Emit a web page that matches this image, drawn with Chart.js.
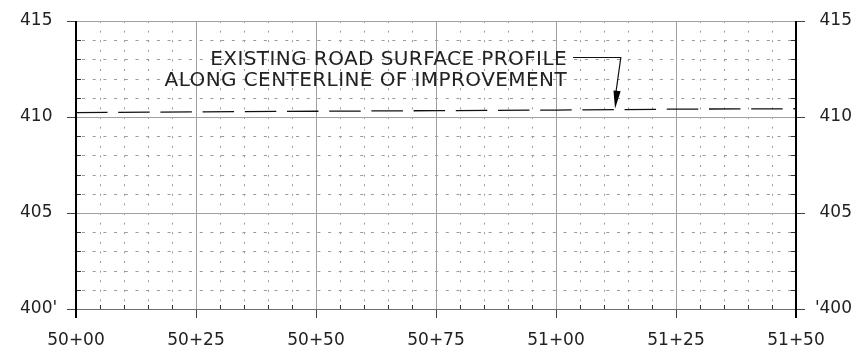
<!DOCTYPE html>
<html>
<head>
<meta charset="utf-8">
<script src="https://cdn.jsdelivr.net/npm/chart.js@4"></script>
<style>
html,body{margin:0;padding:0;background:#fff;}
#wrap{width:859px;height:354px;position:relative;}
</style>
</head>
<body>
<div id="wrap"><canvas id="c"></canvas></div>
<script>
// ---- data ----
const stations = [5000, 5025, 5050, 5075, 5100, 5125, 5150];          // feet (50+00 ... 51+50)
const surfaceElev = [410.23, 410.27, 410.30, 410.33, 410.36, 410.41, 410.43];
const yTicksLeft = {400: "400'"};
const yTicksRight = {400: "'400"};
const annotationLines = ["EXISTING ROAD SURFACE PROFILE", "ALONG CENTERLINE OF IMPROVEMENT"];

// ---- layout constants (not data) ----
const X_MIN = 5000, X_MAX = 5150, Y_MIN = 400, Y_MAX = 415;
const ann = { textX: 5102.3, y1: 412.70, y2: 411.60, cornerX: 5113.5, cornerY: 413.11, tipX: 5112.3, tipY: 410.43 };

function fmtStation(v){
  const s = Math.floor(v/100), r = Math.round(v - s*100);
  return s + '+' + (r < 10 ? '0' + r : r);
}

const FONT = '"DejaVu Sans", sans-serif';

const gridPlugin = {
  id: 'cadGrid',
  beforeDatasetsDraw(chart){
    const {ctx, chartArea:a, scales:{x, y}} = chart;
    const L = a.left, R = a.right, T = a.top, B = a.bottom;
    const px = v => Math.round(x.getPixelForValue(v)) + 0.5;
    const py = v => Math.round(y.getPixelForValue(v)) + 0.5;
    ctx.save();
    ctx.lineWidth = 1;
    // minor horizontal
    ctx.strokeStyle = '#9a9a9a';
    ctx.setLineDash([3, 7.7]);
    for (let v = Y_MIN + 1; v < Y_MAX; v++){
      if (v % 5 === 0) continue;
      ctx.beginPath(); ctx.lineDashOffset = -6; ctx.moveTo(L, py(v)); ctx.lineTo(R, py(v)); ctx.stroke();
    }
    // minor vertical
    ctx.setLineDash([2, 7.6]);
    for (let v = X_MIN + 5; v < X_MAX; v += 5){
      if (v % 25 === 0) continue;
      ctx.beginPath(); ctx.lineDashOffset = 0; ctx.moveTo(px(v), T); ctx.lineTo(px(v), B); ctx.stroke();
    }
    ctx.setLineDash([]);
    // major
    ctx.strokeStyle = '#a0a0a0';
    for (let v = X_MIN + 25; v < X_MAX; v += 25){
      ctx.beginPath(); ctx.moveTo(px(v), T); ctx.lineTo(px(v), B); ctx.stroke();
    }
    for (let v = Y_MIN; v <= Y_MAX; v += 5){
      ctx.strokeStyle = v === Y_MIN ? '#707070' : '#a0a0a0';
      ctx.beginPath(); ctx.moveTo(L, py(v)); ctx.lineTo(R, py(v)); ctx.stroke();
    }
    // minor ticks
    ctx.strokeStyle = '#333';
    for (let v = Y_MIN + 1; v < Y_MAX; v++){
      if (v % 5 === 0) continue;
      ctx.beginPath(); ctx.moveTo(L, py(v)); ctx.lineTo(L + 5, py(v)); ctx.stroke();
      ctx.beginPath(); ctx.moveTo(R - 5, py(v)); ctx.lineTo(R, py(v)); ctx.stroke();
    }
    for (let v = X_MIN + 5; v < X_MAX; v += 5){
      if (v % 25 === 0) continue;
      ctx.beginPath(); ctx.moveTo(px(v), B - 4); ctx.lineTo(px(v), B); ctx.stroke();
    }
    // axis lines
    ctx.strokeStyle = '#000';
    ctx.lineWidth = 2;
    const lx = Math.round(L), rx = Math.round(R);
    ctx.beginPath(); ctx.moveTo(lx, T); ctx.lineTo(lx, B + 9); ctx.stroke();
    ctx.beginPath(); ctx.moveTo(rx, T); ctx.lineTo(rx, B + 9); ctx.stroke();
    ctx.restore();
  },
  afterDatasetsDraw(chart){
    const {ctx, scales:{x, y}} = chart;
    ctx.save();
    ctx.fillStyle = '#222';
    ctx.font = '20px ' + FONT;
    try { ctx.letterSpacing = '0.42px'; } catch(e) {}
    ctx.textAlign = 'right';
    ctx.textBaseline = 'alphabetic';
    ctx.fillText(annotationLines[0], x.getPixelForValue(ann.textX), y.getPixelForValue(ann.y1));
    ctx.fillText(annotationLines[1], x.getPixelForValue(ann.textX), y.getPixelForValue(ann.y2));
    // leader
    const sx = x.getPixelForValue(ann.textX) + 6, sy = Math.round(y.getPixelForValue(ann.cornerY)) + 0.5;
    const cx = x.getPixelForValue(ann.cornerX);
    const tx = x.getPixelForValue(ann.tipX), ty = y.getPixelForValue(ann.tipY);
    ctx.strokeStyle = '#111'; ctx.lineWidth = 1.2;
    ctx.beginPath(); ctx.moveTo(sx, sy); ctx.lineTo(cx, sy); ctx.lineTo(tx, ty - 10); ctx.stroke();
    // arrowhead
    const ang = Math.atan2(ty - sy, tx - cx);
    const len = 18, hw = 3.6;
    const bx = tx - len * Math.cos(ang), by = ty - len * Math.sin(ang);
    const nx = -Math.sin(ang), ny = Math.cos(ang);
    ctx.fillStyle = '#000';
    ctx.beginPath();
    ctx.moveTo(tx, ty);
    ctx.lineTo(bx + nx * hw, by + ny * hw);
    ctx.lineTo(bx - nx * hw, by - ny * hw);
    ctx.closePath(); ctx.fill();
    ctx.restore();
  }
};

const tickFont = { family: FONT, size: 17 };

new Chart(document.getElementById('c'), {
  type: 'line',
  data: {
    datasets: [{
      data: stations.map((s, i) => ({x: s, y: surfaceElev[i]})),
      borderColor: '#111',
      borderWidth: 1.3,
      borderDash: [31.5, 10.7],
      pointRadius: 0,
      tension: 0,
      fill: false
    }]
  },
  options: {
    responsive: true,
    maintainAspectRatio: false,
    animation: false,
    events: [],
    layout: { padding: { left: 20, right: 7, top: 21, bottom: 0 } },
    plugins: { legend: { display: false }, tooltip: { enabled: false } },
    scales: {
      x: {
        type: 'linear', min: X_MIN, max: X_MAX,
        border: { display: false },
        grid: { drawOnChartArea: false, drawTicks: true, tickLength: 9, tickColor: '#444', tickWidth: 1 },
        ticks: { stepSize: 25, callback: v => fmtStation(v), font: tickFont, color: '#222', padding: 12, maxRotation: 0, autoSkip: false },
        afterFit: s => { s.height = 45; }
      },
      y: {
        position: 'left', min: Y_MIN, max: Y_MAX,
        border: { display: false },
        grid: { drawOnChartArea: false, drawTicks: true, tickLength: 9, tickColor: '#444', tickWidth: 1 },
        ticks: { stepSize: 5, callback: v => yTicksLeft[v] || String(v), font: tickFont, color: '#222', padding: 10, crossAlign: 'far' },
        afterFit: s => { s.width = 56; }
      },
      y2: {
        position: 'right', min: Y_MIN, max: Y_MAX,
        border: { display: false },
        grid: { drawOnChartArea: false, drawTicks: true, tickLength: 9, tickColor: '#444', tickWidth: 1 },
        ticks: { stepSize: 5, callback: v => yTicksRight[v] || String(v), font: tickFont, color: '#222', padding: 10, crossAlign: 'far' },
        afterFit: s => { s.width = 56; }
      }
    }
  },
  plugins: [gridPlugin]
});
</script>
</body>
</html>
